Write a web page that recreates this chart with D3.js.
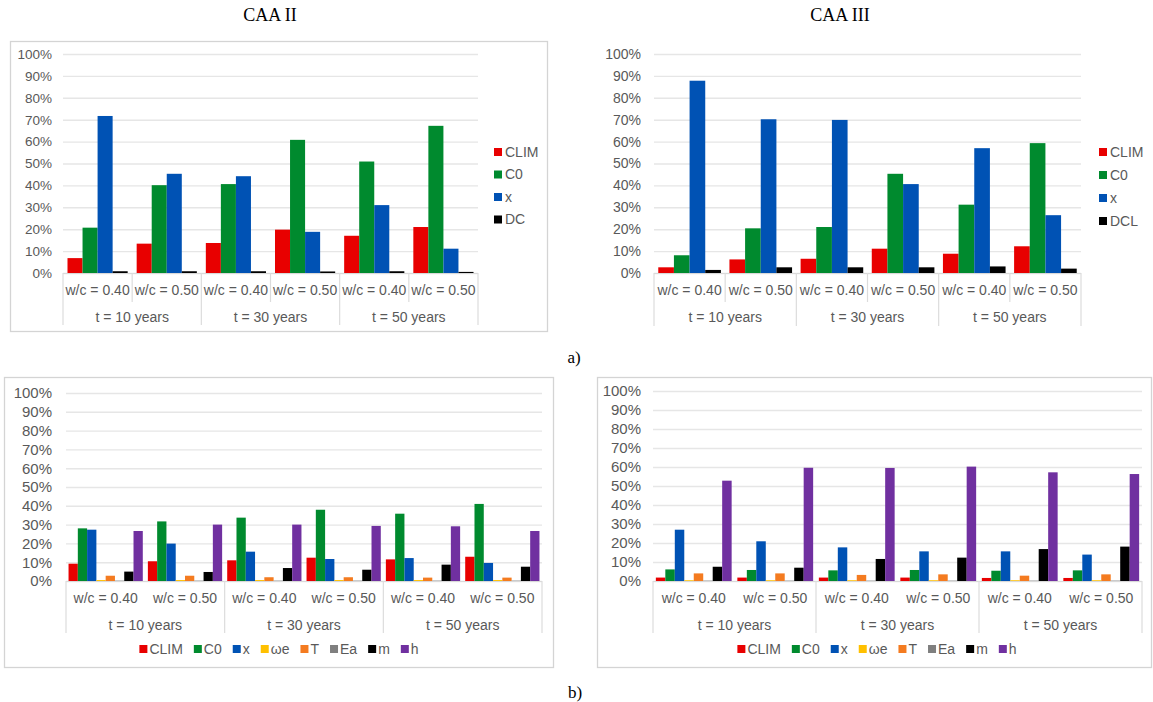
<!DOCTYPE html>
<html>
<head>
<meta charset="utf-8">
<script src="https://cdn.jsdelivr.net/npm/d3@7"></script>
<style>
  body { margin: 0; background: #fff; }
  text { font-family: "Liberation Sans", Arial, sans-serif; }
</style>
</head>
<body>
<svg id="chart" width="1153" height="702"></svg>
<script>
/**
 * DATA
 * */
const timeGroups = ["t = 10 years", "t = 30 years", "t = 50 years"];
const wcLabels = ["w/c = 0.40", "w/c = 0.50"];
const yTicks = [0, 10, 20, 30, 40, 50, 60, 70, 80, 90, 100];

const seriesCaa2 = ["CLIM", "C0", "x", "DC"];
const seriesCaa3 = ["CLIM", "C0", "x", "DCL"];
const seriesB = ["CLIM", "C0", "x", "ωe", "T", "Ea", "m", "h"];

// a) values in %, one row per series, one column per category
const caa2Values = [
  [6.8, 13.4, 13.7, 19.8, 17.0, 21.0],
  [20.7, 40.1, 40.6, 60.8, 50.9, 67.2],
  [71.7, 45.3, 44.2, 18.8, 31.0, 11.1],
  [0.8, 0.8, 0.8, 0.7, 0.8, 0.5]
];
const caa3Values = [
  [2.6, 6.2, 6.5, 11.1, 8.8, 12.2],
  [8.1, 20.4, 21.0, 45.3, 31.2, 59.3],
  [87.8, 70.2, 69.9, 40.6, 57.0, 26.4],
  [1.4, 2.6, 2.6, 2.6, 3.0, 2.0]
];
// b) values
const caa2ValuesB = [
  [9.2, 10.5, 11.0, 12.4, 11.5, 12.9],
  [28.0, 31.7, 33.7, 37.9, 35.8, 41.0],
  [27.3, 19.9, 15.6, 11.7, 12.2, 9.6],
  [0.5, 0.5, 0.5, 0.5, 0.5, 0.5],
  [2.8, 2.8, 2.0, 2.0, 1.8, 1.8],
  [0.2, 0.2, 0.2, 0.2, 0.2, 0.2],
  [5.0, 4.8, 6.9, 6.0, 8.7, 7.6],
  [26.6, 30.0, 30.0, 29.3, 29.1, 26.6]
];
const caa3ValuesB = [
  [1.8, 1.8, 1.8, 1.8, 1.6, 1.6],
  [6.1, 5.8, 5.6, 5.8, 5.4, 5.6],
  [27.0, 20.9, 17.7, 15.6, 15.6, 13.9],
  [0.4, 0.4, 0.4, 0.4, 0.4, 0.4],
  [4.0, 4.0, 3.2, 3.5, 2.8, 3.5],
  [0.2, 0.2, 0.2, 0.2, 0.2, 0.2],
  [7.5, 7.0, 11.6, 12.3, 16.8, 18.1],
  [52.8, 59.6, 59.5, 60.2, 57.2, 56.3]
];

const colorsA = ["#e80000", "#008a2e", "#0052b4", "#000000"];
const colorsB = ["#e80000", "#008a2e", "#0052b4", "#ffc000", "#f47b20", "#7f7f7f", "#000000", "#7030a0"];

const cats = timeGroups.flatMap(t => wcLabels.map(w => t + "|" + w));

const svg = d3.select("#chart");
const labelColor = "#595959";

/**
 * PANEL
 * */
function drawPanel(cfg) {
  const g = svg.append("g");

  if (cfg.box) {
    g.append("rect")
      .attr("x", cfg.box[0] + 0.5).attr("y", cfg.box[1] + 0.5)
      .attr("width", cfg.box[2] - cfg.box[0]).attr("height", cfg.box[3] - cfg.box[1])
      .attr("fill", "none").attr("stroke", "#d4d4d4").attr("stroke-width", 1.3);
  }

  const x0 = d3.scaleBand().domain(cats).range([cfg.left, cfg.right]);
  const bw = x0.bandwidth();
  const x1 = d3.scaleBand().domain(cfg.series).range([bw * cfg.gap, bw * (1 - cfg.gap)]);
  const y = d3.scaleLinear().domain([0, 100]).range([cfg.y0, cfg.y100]);

  // grid + tick labels
  const yAxis = g.append("g")
    .attr("transform", `translate(${cfg.left},0)`)
    .call(d3.axisLeft(y).tickValues(yTicks).tickSize(-(cfg.right - cfg.left))
      .tickFormat(d => d + "%").tickPadding(cfg.labelPad));
  yAxis.select(".domain").remove();
  yAxis.selectAll("line").attr("stroke", "#e6e6e6").attr("stroke-width", 1.4);
  yAxis.selectAll("text")
    .attr("fill", labelColor)
    .style("font-size", cfg.tickFont + "px")
    .style("font-family", "'Liberation Sans', Arial, sans-serif");

  // bars
  cfg.series.forEach((s, i) => {
    g.append("g").selectAll("rect")
      .data(cfg.values[i])
      .join("rect")
      .attr("x", (d, j) => x0(cats[j]) + x1(s))
      .attr("y", d => y(d))
      .attr("width", x1.bandwidth())
      .attr("height", d => y(0) - y(d))
      .attr("fill", cfg.colors[i]);
  });

  // baseline
  g.append("line")
    .attr("x1", cfg.left).attr("x2", cfg.right)
    .attr("y1", y(0) + 0.5).attr("y2", y(0) + 0.5)
    .attr("stroke", "#d9d9d9").attr("stroke-width", 1.2);

  // category separators
  const sep = g.append("g").attr("stroke", "#dcdcdc").attr("stroke-width", 1.2);
  cats.forEach((c, j) => {
    const xx = x0(c);
    if (j % 2 === 0) {
      sep.append("line").attr("x1", xx).attr("x2", xx)
        .attr("y1", y(0)).attr("y2", cfg.lineBottom);
    } else if (cfg.shortTicks) {
      sep.append("line").attr("x1", xx).attr("x2", xx)
        .attr("y1", y(0)).attr("y2", cfg.shortBottom);
    }
  });
  sep.append("line").attr("x1", cfg.right).attr("x2", cfg.right)
    .attr("y1", y(0)).attr("y2", cfg.lineBottom);

  // category labels
  g.append("g").selectAll("text")
    .data(cats)
    .join("text")
    .attr("x", c => x0(c) + bw / 2)
    .attr("y", cfg.wcY)
    .attr("dy", "0.35em")
    .attr("text-anchor", "middle")
    .attr("fill", labelColor)
    .style("font-size", "14px")
    .text(c => c.split("|")[1]);

  g.append("g").selectAll("text")
    .data(timeGroups)
    .join("text")
    .attr("x", (t, k) => x0(cats[k * 2]) + bw)
    .attr("y", cfg.tY)
    .attr("dy", "0.35em")
    .attr("text-anchor", "middle")
    .attr("fill", labelColor)
    .style("font-size", "14px")
    .text(t => t);

  // legend
  const leg = g.append("g");
  if (cfg.legend === "right") {
    cfg.series.forEach((s, i) => {
      const ly = cfg.legY + i * cfg.legStep;
      leg.append("rect").attr("x", cfg.legX).attr("y", ly - 4)
        .attr("width", 8).attr("height", 8).attr("fill", cfg.colors[i]);
      leg.append("text").attr("x", cfg.legX + 11).attr("y", ly).attr("dy", "0.35em")
        .attr("fill", labelColor).style("font-size", "14px").text(s);
    });
  } else {
    let cx = 0;
    cfg.series.forEach((s, i) => {
      leg.append("rect").attr("x", cx).attr("y", cfg.legY - 4)
        .attr("width", 8).attr("height", 8).attr("fill", cfg.colors[i]);
      const t = leg.append("text").attr("x", cx + 10).attr("y", cfg.legY).attr("dy", "0.35em")
        .attr("fill", labelColor).style("font-size", "14px").text(s);
      cx += 10 + t.node().getComputedTextLength() + 11;
    });
    const total = cx - 11;
    leg.attr("transform", `translate(${cfg.legCenter - total / 2},0)`);
  }
}

drawPanel({
  values: caa2Values, series: seriesCaa2, colors: colorsA,
  box: [10, 41, 547, 331],
  left: 63, right: 478, y0: 273, y100: 54, labelPad: 11, tickFont: 13.5, gap: 0.065,
  wcY: 290, tY: 317, lineBottom: 325, shortTicks: true, shortBottom: 302,
  legend: "right", legX: 494, legY: 152, legStep: 22.5
});

drawPanel({
  values: caa3Values, series: seriesCaa3, colors: colorsA,
  box: null,
  left: 654, right: 1081, y0: 273, y100: 54, labelPad: 13, tickFont: 14, gap: 0.06,
  wcY: 290, tY: 317, lineBottom: 326, shortTicks: true, shortBottom: 302,
  legend: "right", legX: 1099, legY: 152, legStep: 23
});

drawPanel({
  values: caa2ValuesB, series: seriesB, colors: colorsB,
  box: [4, 377, 553, 667],
  left: 66, right: 542, y0: 581, y100: 393, labelPad: 14, tickFont: 15, gap: 0.032,
  wcY: 598, tY: 625, lineBottom: 633, shortTicks: false,
  legend: "bottom", legY: 649, legCenter: 279
});

drawPanel({
  values: caa3ValuesB, series: seriesB, colors: colorsB,
  box: [597, 377, 1151, 667],
  left: 653, right: 1142, y0: 581, y100: 391, labelPad: 12, tickFont: 15, gap: 0.035,
  wcY: 598, tY: 625, lineBottom: 633, shortTicks: false,
  legend: "bottom", legY: 649, legCenter: 877
});

// titles and panel letters
const serif = "'Liberation Serif', 'Times New Roman', serif";
[["CAA II", 270, 21], ["CAA III", 840, 21]].forEach(([t, x, yy]) => {
  svg.append("text").attr("x", x).attr("y", yy).attr("text-anchor", "middle")
    .style("font-family", serif).style("font-size", "18px").attr("fill", "#000").text(t);
});
[["a)", 574, 363], ["b)", 575, 698]].forEach(([t, x, yy]) => {
  svg.append("text").attr("x", x).attr("y", yy).attr("text-anchor", "middle")
    .style("font-family", serif).style("font-size", "17px").attr("fill", "#000").text(t);
});
</script>
</body>
</html>
